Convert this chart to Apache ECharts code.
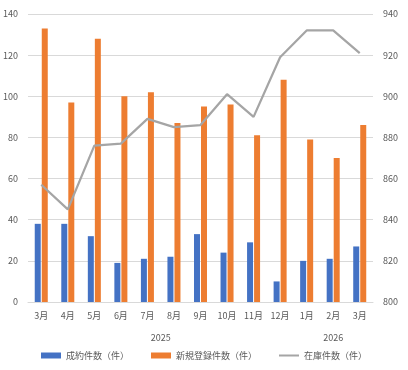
<!DOCTYPE html>
<html><head><meta charset="utf-8">
<script src="https://cdn.jsdelivr.net/npm/echarts@6/dist/echarts.min.js"></script>
<style>html,body{margin:0;padding:0;background:#fff}#c{width:408px;height:370px}</style>
</head><body><div id="c"></div>
<script>
const months = ['3月','4月','5月','6月','7月','8月','9月','10月','11月','12月','1月','2月','3月'];
const years = ['2025','2026'];
const yearSpans = [10, 3];
const contracts = [38,38,32,19,21,22,33,24,29,10,20,21,27];
const newListings = [133,97,128,100,102,87,95,96,81,108,79,70,86];
const inventory = [857,845,876,877,889,885,886,901,890,919,932,932,921];
const seriesNames = ['成約件数（件）','新規登録件数（件）','在庫件数（件）'];

const yearPos = [];
let acc = 0;
yearSpans.forEach(s => { yearPos.push(acc + s / 2); acc += s; });

const font = '"Noto Sans CJK JP", sans-serif';
const txt = '#595959';
const chart = echarts.init(document.getElementById('c'));
chart.setOption({
  animation: false,
  textStyle: { fontFamily: font },
  grid: { left: 25, right: 35, top: 14, bottom: 68 },
  legend: {
    bottom: 5, left: 'center', itemWidth: 20, itemHeight: 6, itemGap: 22,
    textStyle: { color: txt, fontSize: 9, fontFamily: font },
    data: [
      { name: seriesNames[0], icon: 'rect' },
      { name: seriesNames[1], icon: 'rect' },
      { name: seriesNames[2], icon: 'path://M0,0 M20,6 M0,2 L20,2 L20,4 L0,4 Z' }
    ]
  },
  xAxis: [
    {
      type: 'category', data: months,
      axisLine: { lineStyle: { color: '#d9d9d9' } },
      axisTick: { show: false },
      axisLabel: { color: txt, fontSize: 9, margin: 9, interval: 0, fontFamily: font }
    },
    {
      type: 'value', min: 0, max: months.length, position: 'bottom',
      axisLine: { show: false }, axisTick: { show: false }, splitLine: { show: false },
      axisLabel: {
        color: txt, fontSize: 9, margin: 31, fontFamily: font,
        customValues: yearPos,
        formatter: v => { const i = yearPos.indexOf(v); return i >= 0 ? years[i] : ''; }
      }
    }
  ],
  yAxis: [
    {
      type: 'value', min: 0, max: 140, interval: 20,
      axisLine: { show: false }, axisTick: { show: false },
      splitLine: { lineStyle: { color: '#d9d9d9' } },
      axisLabel: { color: txt, fontSize: 9, margin: 10, fontFamily: font }
    },
    {
      type: 'value', min: 800, max: 940, interval: 20,
      axisLine: { show: false }, axisTick: { show: false },
      splitLine: { show: false },
      axisLabel: { color: txt, fontSize: 9, margin: 10, fontFamily: font }
    }
  ],
  series: [
    { name: seriesNames[0], type: 'bar', data: contracts, barWidth: 6, barGap: '17%',
      itemStyle: { color: '#4472C4' } },
    { name: seriesNames[1], type: 'bar', data: newListings, barWidth: 6, barGap: '17%',
      itemStyle: { color: '#ED7D31' } },
    { name: seriesNames[2], type: 'line', yAxisIndex: 1, data: inventory, symbol: 'none',
      lineStyle: { color: '#A5A5A5', width: 2.25 }, itemStyle: { color: '#A5A5A5' } }
  ]
});
</script></body></html>
